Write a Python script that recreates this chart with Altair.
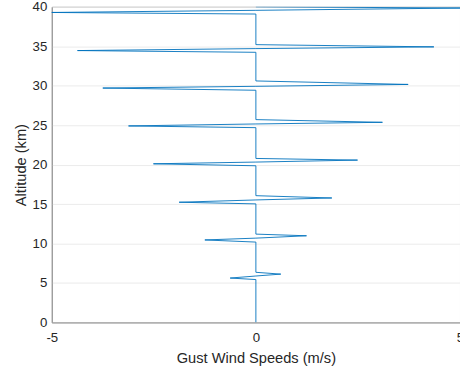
import altair as alt
import pandas as pd

# Gust events (altitude in km, speed in m/s)
gust_start_alt = [5.43, 10.18, 15.02, 19.85, 24.68, 29.42, 34.23, 39.08]
left_peak_speed = [-0.63, -1.25, -1.88, -2.51, -3.12, -3.75, -4.37, -5.02]
left_peak_alt = [5.62, 10.45, 15.23, 20.10, 24.90, 29.70, 34.45, 39.28]
mid_zero_alt = [5.88, 10.68, 15.52, 20.32, 25.15, 29.92, 34.70, 39.55]
right_peak_speed = [0.61, 1.24, 1.86, 2.49, 3.10, 3.73, 4.36, 5.00]
right_peak_alt = [6.12, 10.98, 15.77, 20.57, 25.36, 30.16, 34.92, 39.84]
gust_end_alt = [6.35, 11.19, 16.06, 20.78, 25.70, 30.60, 35.20, 40.00]

x_ticks = [-5, 0, 5]
y_ticks = [0, 5, 10, 15, 20, 25, 30, 35, 40]

rows = [(0.0, 0.0)]
for s, lp, la, m, rp, ra, e in zip(gust_start_alt, left_peak_speed, left_peak_alt,
                                   mid_zero_alt, right_peak_speed, right_peak_alt,
                                   gust_end_alt):
    rows += [(0.0, s), (lp, la), (0.0, m), (rp, ra), (0.0, e)]

df = pd.DataFrame(rows, columns=["speed", "alt"])
df["i"] = range(len(df))

FONT = "Liberation Sans"
TXT = "#262626"
AX = "#999999"

chart = alt.Chart(df).mark_line(color="#0072BD", strokeWidth=0.9, clip=True).encode(
    x=alt.X("speed:Q",
            scale=alt.Scale(domain=[-5, 5], nice=False, zero=False),
            axis=alt.Axis(values=x_ticks, grid=False, ticks=False, tickSize=0,
                          labelExpr="'' + datum.value",
                          title="Gust Wind Speeds (m/s)", labelPadding=8,
                          titlePadding=7, domainColor=AX, labelFlush=False,
                          labelFontSize=13.3, titleFontSize=14.7,
                          labelColor=TXT, titleColor=TXT, labelFont=FONT,
                          titleFont=FONT, titleFontWeight="normal")),
    y=alt.Y("alt:Q",
            scale=alt.Scale(domain=[0, 40], nice=False, zero=False),
            axis=alt.Axis(values=y_ticks, grid=True, gridColor="#ebebeb",
                          ticks=False, tickSize=0, title="Altitude (km)",
                          labelPadding=5, titlePadding=4, domainColor=AX,
                          labelFlush=False, labelFontSize=13.3,
                          titleFontSize=14.7, labelColor=TXT, titleColor=TXT,
                          labelFont=FONT, titleFont=FONT,
                          titleFontWeight="normal")),
    order="i:Q",
).properties(
    width=410, height=317,
    padding={"left": 52, "top": 6, "right": 0, "bottom": 49},
    autosize="none",
).configure_view(stroke=AX, strokeWidth=1)

chart.save("out.html", embed_options={"renderer": "svg", "actions": False})
